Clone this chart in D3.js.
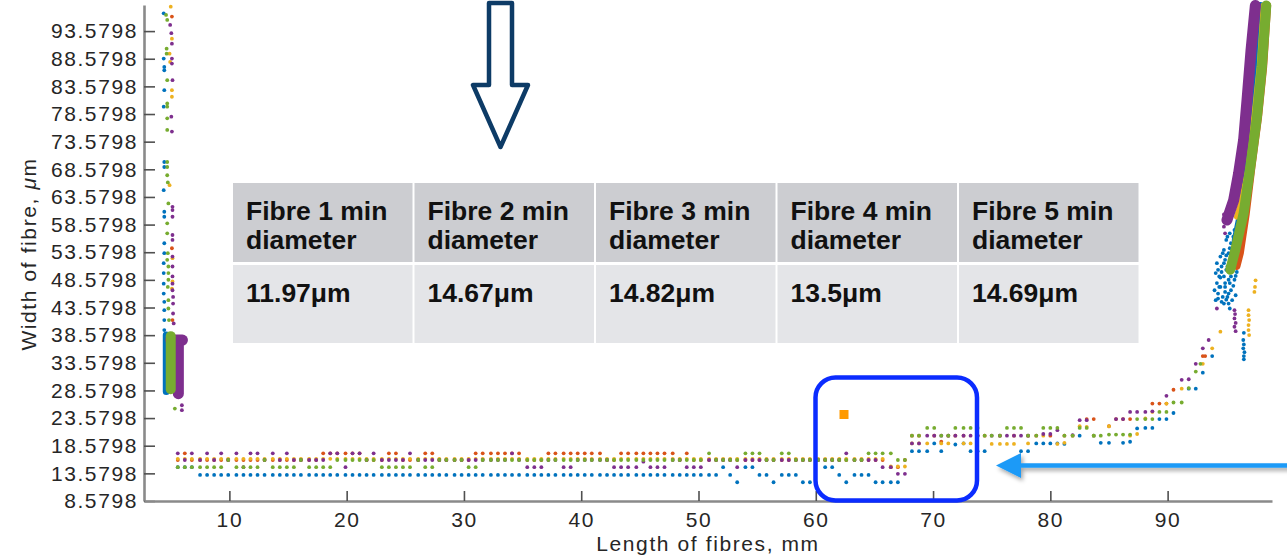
<!DOCTYPE html>
<html>
<head>
<meta charset="utf-8" />
<title>fibre width</title>
<script src="https://cdn.jsdelivr.net/npm/d3@7"></script>
<style>
  body { margin: 0; background: #fff; }
</style>
</head>
<body>
<svg width="1287" height="555"></svg>
<script>
// sample positions along the fibre, mm
var lengthMm = [5.6,6.2,6.8,7.5,8.1,8.7,9.3,9.9,10.6,11.2,
  11.8,12.4,13.0,13.7,14.3,14.9,15.5,16.1,16.8,17.4,
  18.0,18.6,19.2,19.9,20.5,21.1,21.7,22.3,23.0,23.6,
  24.2,24.8,25.4,26.1,26.7,27.3,27.9,28.5,29.2,29.8,
  30.4,31.0,31.6,32.3,32.9,33.5,34.1,34.7,35.4,36.0,
  36.6,37.2,37.8,38.5,39.1,39.7,40.3,40.9,41.6,42.2,
  42.8,43.4,44.0,44.7,45.3,45.9,46.5,47.1,47.8,48.4,
  49.0,49.6,50.2,50.9,51.5,52.1,52.7,53.3,54.0,54.6,
  55.2,55.8,56.4,57.1,57.7,58.3,58.9,59.5,60.2,60.8,
  61.4,62.0,62.6,63.3,63.9,64.5,65.1,65.7,66.4,67.0,
  67.6,68.2,68.8,69.5,70.1,70.7,71.3,71.9,72.6,73.2,
  73.8,74.4,75.0,75.7,76.3,76.9,77.5,78.1,78.8,79.4,
  80.0,80.6,81.2,81.9,82.5,83.1,83.7,84.3,85.0,85.6,
  86.2,86.8,87.4,88.1,88.7,89.3,89.9,90.5,91.2,91.8,
  92.4,93.0];

// width of each fibre at those positions, um (null = no reading)
var fibre1 = [14.7,14.7,14.7,13.3,13.3,13.3,13.3,13.3,13.3,13.3,
  13.3,13.3,13.3,13.3,13.3,13.3,13.3,13.3,13.3,13.3,
  13.3,13.3,13.3,13.3,13.3,13.3,13.3,13.3,13.3,13.3,
  13.3,13.3,13.3,13.3,13.3,13.3,13.3,13.3,13.3,13.3,
  13.3,13.3,13.3,13.3,13.3,13.3,13.3,13.3,13.3,13.3,
  13.3,13.3,13.3,13.3,13.3,13.3,13.3,13.3,13.3,13.3,
  13.3,13.3,13.3,13.3,13.3,13.3,13.3,13.3,13.3,13.3,
  13.3,13.3,13.3,13.3,13.3,14.7,13.3,11.97,14.7,14.7,
  13.3,13.3,11.97,13.3,13.3,13.3,11.97,11.97,null,14.7,
  14.7,13.3,11.97,13.3,13.3,13.3,11.97,11.97,11.97,11.97,
  null,17.6,17.6,17.6,19.0,17.6,null,18.8,19.0,17.6,
  17.6,17.6,null,null,null,null,17.6,17.6,19.0,19.0,
  19.0,19.0,18.9,null,20.4,null,20.4,19.1,19.1,null,
  19.1,19.3,21.7,21.8,21.8,23.4,23.4,24.5,null,28.9,
  28.9,31.8];

var fibre2 = [16,17.2,16,16,16,16,16,16,16,16,
  16,16,16,16,16,16,16,16,16,16,
  17.2,17.2,17.2,17.2,17.2,17.2,16,16,16,17.2,
  17.2,16,16,16,17.2,17.2,16,16,16,16,
  16,17.2,17.2,17.2,17.2,17.2,17.2,17.2,16,16,
  16,17.2,17.2,17.2,17.2,17.2,17.2,17.2,17.2,16,
  16,17.2,17.2,17.2,17.2,17.2,17.2,17.2,17.2,16,
  17.2,16,16,16,16,16,16,16,16,16,
  16,16,16,16,16,16,16,16,16,16,
  16,16,16,16,16,16,16,16,14.7,14.7,
  16,20.4,20.4,null,20.4,19.3,20.4,20.4,20.4,null,
  20.4,20.4,null,20.4,null,20.4,null,20.4,20.4,null,
  20.4,null,20.4,20.4,null,23.4,23.4,null,22.1,23.4,
  23.4,23.4,null,null,26.2,26.2,26.2,28.7,null,null,
  null,34.8];

var fibre3 = [16.2,16.2,16.2,16.2,16.2,16.2,16.2,16.2,16.2,16.2,
  16.2,16.2,16.2,16.2,16.2,16.2,16.2,16.2,16.2,16.2,
  16.2,16.2,16.2,16.2,16.2,16.2,16.2,16.2,16.2,16.2,
  16.2,16.2,16.2,16.2,16.2,16.2,16.2,16.2,16.2,16.2,
  16.2,16.2,16.2,16.2,16.2,16.2,16.2,16.2,16.2,16.2,
  16.2,16.2,16.2,16.2,16.2,16.2,16.2,16.2,16.2,16.2,
  16.2,16.2,16.2,16.2,16.2,16.2,16.2,16.2,16.2,16.2,
  16.2,16.2,16.2,16.2,16.2,16.2,16.2,16.2,16.2,16.2,
  16.2,16.2,16.2,16.2,16.2,16.2,16.2,16.2,16.2,16.2,
  16.2,16.2,16.2,16.2,16.2,16.2,16.2,16.2,14.82,14.82,
  14.82,19.0,19.0,19.0,null,19.0,19.0,null,19.0,19.0,
  null,null,18.9,18.9,18.9,18.9,null,19.0,null,20.4,
  null,18.9,19.1,null,22.1,22.0,20.4,null,22.1,null,
  null,20.4,20.7,23.5,24.7,null,26.2,null,28.9,null,
  null,33.4];

var fibre4 = [17.2,16,17.2,16,17.2,16,17.2,16,17.2,14.7,
  17.2,17.2,16,17.2,16,17.2,16,16,16,16,
  16,17.2,17.2,14.7,17.2,17.2,16,17.2,16,16,
  16,16,17.2,16,16,16,16,16,16,16,
  16,16,16,16,16,16,17.2,16,14.7,14.7,
  14.7,16,16,14.7,14.7,16,16,16,16,16,
  14.7,14.7,14.7,14.7,15.7,14.7,14.7,14.7,16,16,
  14.7,14.7,14.7,16,16,16,16,14.7,16,16,
  16,16,16,16,16,16,16,16,16,16,
  16,16,17.2,16,16,16,16,14.7,14.7,13.5,
  13.5,19.0,19.0,20.4,20.4,20.4,20.4,20.4,20.4,20.4,
  20.4,null,20.4,20.4,20.4,20.4,20.4,20.4,null,20.7,
  20.7,21.4,null,20.5,23.2,23.2,null,null,null,23.4,
  23.4,24.7,24.7,24.7,24.8,null,27.6,null,30.5,30.6,
  33.4,36.2];

var fibre5 = [14.69,14.69,14.69,14.69,14.69,14.69,14.69,16,14.69,14.69,
  14.69,14.69,16,14.69,14.69,14.69,14.69,16,14.69,14.69,
  14.69,14.69,16,16,16,16,16,16,14.69,14.69,
  14.69,14.69,14.69,16,14.69,14.69,16,16,16,16,
  14.69,14.69,16,16,16,16,16,16,16,16,
  16,16,16,16,16,16,16,16,16,16,
  16,16,16,16,16,16,16,16,16,16,
  16,16,16,17.2,16,16,16,16,17.2,17.2,
  17.2,16,16,17.2,17.2,16,16,16,16,16,
  16,16,16,16,16,17.2,17.2,17.2,17.2,16,
  16,20.4,20.4,21.8,21.8,20.4,20.4,21.8,21.8,21.8,
  21.8,20.4,20.4,20.4,21.8,21.8,21.8,20.4,20.4,21.8,
  21.8,21.8,20.4,20.4,21.8,21.8,20.4,20.4,20.6,20.6,
  20.6,20.6,23.4,23.4,23.4,24.7,24.7,26.4,26.4,29.0,
  32.0,null];

// loose readings off the sampling grid [mm, um]
var fibre1Extra = [[4.4,96.8],[4.4,88.6],[4.45,87.1],[4.45,86.5],[4.45,82.9],[4.4,79.9],[4.45,69.9],[4.45,69.0],[4.4,64.8],
  [4.45,60.9],[4.45,60.0],[4.45,55.2],[4.45,53.4],[4.4,51.6],[4.4,49.8],[4.4,47.9],[4.4,46.1],[4.45,44.6],[4.45,43.1],
  [4.45,41.3],[4.45,39.5],[93.8,34.8],
  [95.3,57.0],[95.6,56.4],[95.0,55.8],[95.4,55.2],[95.8,54.6],[94.8,54.0],[95.2,53.4],[95.6,53.4],[94.5,52.8],[94.9,52.2],
  [95.3,52.2],[95.8,51.6],[94.2,51.6],[94.6,51.0],[95.0,50.4],[95.5,50.4],[94.1,49.8],[94.4,49.2],[94.8,49.2],[95.2,48.6],
  [95.7,48.6],[94.2,48.0],[94.5,47.3],[94.9,47.3],[95.4,46.7],[94.3,46.1],[94.7,45.5],[95.1,45.5],[95.5,44.9],[94.1,44.9],
  [94.8,44.3],[95.3,43.4],
  [94.3,50.4],[94.6,50.0],[94.9,48.0],[95.1,51.0],[95.4,49.2],[95.6,52.8],[95.0,53.0],[94.7,53.4],[95.3,54.3],[95.9,53.0],
  [94.4,47.3],[94.9,46.4],[95.2,46.1],[95.6,47.5],[94.6,44.6],[95.2,44.3],[95.8,45.8],[94.0,46.7],[94.3,45.2],[95.4,51.3],
  [95.9,50.0],[95.1,56.4],[95.7,57.6],[96.0,56.0],[94.5,49.0],[95.8,49.3],[95.3,48.0],[94.8,51.6],[96.1,52.2],[95.0,45.0],
  [96.5,39.0],[96.45,37.7],[96.5,36.9],[96.45,36.2],[96.55,35.5],[96.5,34.8],[96.5,34.2]];
var fibre2Extra = [[5.1,96.2],[5.1,54.3],[5.15,41.3],[93.2,34.8]];
var fibre3Extra = [[5.0,98.0],[5.1,92.2],[4.9,89.5],[4.95,88.0],[5.1,82.9],[5.1,81.7],[4.9,65.7],[5.15,52.5],[5.15,48.3],
  [5.1,47.0],[93.8,36.2],[94.5,39.2],[96.9,43.1],[96.9,42.2],[96.95,41.3],[96.9,40.4],[96.9,39.5],[96.95,38.6],
  [97.5,48.5],[97.45,47.3],[97.4,46.4]];
var fibre4Extra = [[4.95,94.7],[5.05,93.2],[5.1,91.3],[5.1,88.6],[5.1,87.7],[5.15,84.7],[5.05,78.1],[5.1,75.4],[5.15,61.8],
  [5.15,61.2],[5.15,60.0],[5.15,56.7],[5.15,55.8],[5.15,52.8],[5.15,51.0],[5.15,49.2],[5.15,47.9],[5.15,46.7],[5.2,45.5],
  [5.2,44.3],[5.2,42.5],[5.25,40.7],[5.95,25.9],[5.95,25.0],
  [93.5,37.7],[94.2,43.4],[94.8,60.4],[94.85,59.4],[94.8,58.2],[94.9,57.0],[95.7,43.1],[95.75,42.4],[95.7,41.6],
  [95.8,40.8],[95.7,40.1],[95.8,39.3]];
var fibre5Extra = [[4.6,96.5],[4.7,95.6],[4.65,90.4],[4.65,89.5],[4.7,84.7],[4.7,80.5],[4.7,79.9],[4.7,77.8],[4.7,75.7],
  [4.7,69.9],[4.7,69.0],[4.7,67.5],[4.75,66.2],[4.8,62.4],[4.7,58.8],[4.7,57.0],[4.75,53.4],[4.7,52.2],[4.8,51.0],
  [4.8,49.8],[4.8,48.6],[4.75,47.3],[4.8,44.9],[4.8,43.4],[4.85,41.3],[5.35,25.3],[92.8,33.4]];

// dense runs of readings, traced as bands [mm, um]
var fibre1Bands = [[[4.62,28.4],[4.62,38.6]],
  [[95.77,55.8],[96.34,61.8],[96.77,69.0],[97.19,78.1],[97.56,87.1],[97.9,98.2]]];
var fibre2Bands = [[[95.91,51.0],[96.2,53.4],[96.71,60.6],[97.19,69.0],[97.76,78.1],[98.19,87.1],[98.53,98.2]]];
var fibre3Bands = [[[95.91,60.0],[96.34,63.0],[96.91,69.0],[97.39,78.1],[97.85,87.1],[98.19,98.2]]];
var fibre4Bands = [[[5.65,28.0],[5.65,37.4]], [[5.0,37.7],[6.0,37.7]],
  [[95.06,59.4],[95.63,63.0],[96.05,67.8],[96.48,73.9],[96.77,81.1],[97.11,90.1],[97.48,98.2]]];
var fibre5Bands = [[[5.0,28.8],[5.0,38.4]],
  [[95.34,50.4],[95.77,54.0],[96.48,60.6],[97.05,69.0],[97.62,78.1],[98.04,87.1],[98.41,98.2]]];

var widthTicks = [8.5798,13.5798,18.5798,23.5798,28.5798,33.5798,38.5798,43.5798,48.5798,
  53.5798,58.5798,63.5798,68.5798,73.5798,78.5798,83.5798,88.5798,93.5798];
var lengthTicks = [10,20,30,40,50,60,70,80,90];

var fibreNames = ["Fibre 1 min","Fibre 2 min","Fibre 3 min","Fibre 4 min","Fibre 5 min"];
var minDiameters = ["11.97μm","14.67μm","14.82μm","13.5μm","14.69μm"];

var svg = d3.select("svg");
var fontFamily = "'Liberation Sans', Arial, Helvetica, sans-serif";

var x = d3.scaleLinear().domain([2.72, 98.9]).range([144, 1272]);
var y = d3.scaleLinear().domain([8.5798, 98.3]).range([501, 5]);

var fibreColors = ["#0072bd","#d95319","#edb120","#7e2f8e","#77ac30"];
var bandSize = [7, 7, 6, 11, 10];
var series = [fibre1, fibre2, fibre3, fibre4, fibre5];
var extras = [fibre1Extra, fibre2Extra, fibre3Extra, fibre4Extra, fibre5Extra];
var bands = [fibre1Bands, fibre2Bands, fibre3Bands, fibre4Bands, fibre5Bands];

var defs = svg.append("defs");
var shadow = defs.append("filter").attr("id","shadow")
  .attr("x","-10%").attr("y","-60%").attr("width","130%").attr("height","260%");
shadow.append("feDropShadow").attr("dx",2).attr("dy",3).attr("stdDeviation",2)
  .attr("flood-color","#000").attr("flood-opacity",0.35);

// scatter, one group per fibre (later fibres on top)
var line = d3.line().x(function(d){ return x(d[0]); }).y(function(d){ return y(d[1]); });
var plot = svg.append("g");
series.forEach(function(vals, i){
  var g = plot.append("g");
  g.selectAll("path").data(bands[i]).enter().append("path")
    .attr("d", line)
    .attr("fill","none")
    .attr("stroke", fibreColors[i])
    .attr("stroke-width", bandSize[i])
    .attr("stroke-linecap","round")
    .attr("stroke-linejoin","round");
  var pts = lengthMm.map(function(l, k){ return [l, vals[k]]; })
    .filter(function(d){ return d[1] != null; })
    .concat(extras[i]);
  g.selectAll("circle").data(pts).enter().append("circle")
    .attr("cx", function(d){ return x(d[0]); })
    .attr("cy", function(d){ return y(d[1]); })
    .attr("r", 1.9)
    .attr("fill", fibreColors[i]);
});

// axes
var yAxis = d3.axisLeft(y).tickValues(widthTicks).tickFormat(d3.format(".4f"))
  .tickSizeInner(-11).tickSizeOuter(0).tickPadding(6);
var xAxis = d3.axisBottom(x).tickValues(lengthTicks)
  .tickSizeInner(-10).tickSizeOuter(0).tickPadding(11);

var gy = svg.append("g").attr("transform","translate(144,0)").call(yAxis);
var gx = svg.append("g").attr("transform","translate(0,501)").call(xAxis);
[gx, gy].forEach(function(g){
  g.attr("font-family", fontFamily).attr("font-size", 21);
  g.select(".domain").attr("stroke","#8a8a8a").attr("stroke-width",2.6);
  g.selectAll(".tick line").attr("stroke","#505050").attr("stroke-width",1.6);
  g.selectAll(".tick text").attr("fill","#262626").attr("letter-spacing",1.6);
});

svg.append("text")
  .attr("transform","translate(36,254) rotate(-90)")
  .attr("text-anchor","middle")
  .attr("font-family", fontFamily).attr("font-size",21).attr("letter-spacing",1.6)
  .attr("fill","#262626")
  .text("Width of fibre, ")
  .append("tspan").attr("font-style","italic").text("μ")
  .select(function(){ return this.parentNode; })
  .append("tspan").text("m");

svg.append("text")
  .attr("x",708).attr("y",551)
  .attr("text-anchor","middle")
  .attr("font-family", fontFamily).attr("font-size",21).attr("letter-spacing",1.6)
  .attr("fill","#262626")
  .text("Length of fibres, mm");

// minimum diameter table
var table = svg.append("g").attr("font-family", fontFamily).attr("font-weight","bold").attr("font-size",26.5).attr("fill","#111");
var cells = table.selectAll("g").data(fibreNames).enter().append("g")
  .attr("transform", function(d, i){ return "translate(" + (233 + i * 181.5) + ",0)"; });
cells.append("rect").attr("y",183).attr("width",179.5).attr("height",79).attr("fill","#cccdd1");
cells.append("rect").attr("y",265).attr("width",179.5).attr("height",78).attr("fill","#e4e5e8");
cells.append("text").attr("x",13).attr("y",220).text(function(d){ return d; });
cells.append("text").attr("x",13).attr("y",249).text("diameter");
cells.append("text").attr("x",13).attr("y",302).text(function(d, i){ return minDiameters[i]; });

// annotations
svg.append("path")
  .attr("d","M489,3H512V85H528L500.5,147L473,85H489Z")
  .attr("fill","#fff").attr("stroke","#0d3b66").attr("stroke-width",4.5).attr("stroke-linejoin","round");

svg.append("rect")
  .attr("x",815.5).attr("y",377.5).attr("width",161.5).attr("height",123).attr("rx",20)
  .attr("fill","none").attr("stroke","#0b2cff").attr("stroke-width",4.5);

svg.append("rect")
  .attr("x",839.5).attr("y",410).attr("width",9).attr("height",9).attr("fill","#ff9a00");

var pointer = svg.append("g").attr("filter","url(#shadow)");
pointer.append("line").attr("x1",1290).attr("x2",1015).attr("y1",465.5).attr("y2",465.5)
  .attr("stroke","#1b9af7").attr("stroke-width",4.5);
pointer.append("path").attr("d","M996,465.5L1021,453L1021,478Z").attr("fill","#1b9af7");
</script>
</body>
</html>
